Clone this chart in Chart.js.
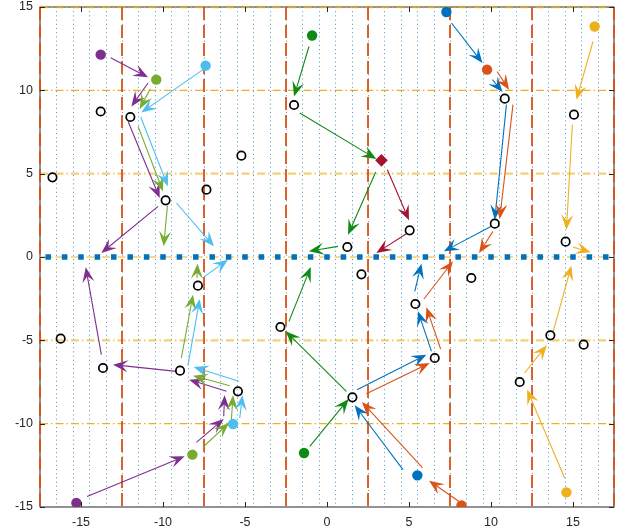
<!DOCTYPE html>
<html>
<head>
<meta charset="utf-8">
<script src="https://cdn.jsdelivr.net/npm/chart.js@4/dist/chart.umd.min.js"></script>
<style>
  html, body { margin: 0; padding: 0; background: #ffffff; }
  #wrap { width: 626px; height: 531px; }
</style>
</head>
<body>
<div id="wrap"><canvas id="c" width="626" height="531"></canvas></div>
<script>
// ---- axes ----
const xTicks = [-15, -10, -5, 0, 5, 10, 15];
const yTicks = [-15, -10, -5, 0, 5, 10, 15];

// ---- reference lines ----
const cellEdgesX = [-17.5, -12.5, -7.5, -2.5, 2.5, 7.5, 12.5, 17.5];
const halfStepsX = [-16.5, -15.5, -14.5, -13.5, -12.5, -11.5, -10.5, -9.5, -8.5, -7.5, -6.5, -5.5,
                    -4.5, -3.5, -2.5, -1.5, -0.5, 0.5, 1.5, 2.5, 3.5, 4.5, 5.5, 6.5, 7.5, 8.5,
                    9.5, 10.5, 11.5, 12.5, 13.5, 14.5, 15.5, 16.5];
const bandLinesStrong = [-5, 5, 15];
const bandLinesLight = [-10, 0, 10];
const targetSlotsX = [-17, -16, -15, -14, -13, -12, -11, -10, -9, -8, -7, -6, -5, -4, -3, -2, -1,
                      0, 1, 2, 3, 4, 5, 6, 7, 8, 9, 10, 11, 12, 13, 14, 15, 16, 17];

// ---- waypoints (open circles) ----
const wayX = [-16.74, -13.80, -11.99, -9.84, -7.35, -5.22, -2.01, 1.24, 2.10, 5.04, 10.84, 10.23, 14.55, 15.06,
              -16.24, -13.66, -8.96, -7.87, -5.43, -2.84, 1.55, 5.39, 6.57, 8.80, 11.75, 13.62, 15.65];
const wayY = [4.78, 8.73, 8.40, 3.40, 4.04, 6.08, 9.12, 0.60, -1.04, 1.60, 9.50, 2.00, 0.92, 8.54,
              -4.90, -6.66, -6.82, -1.72, -8.06, -4.20, -8.42, -2.82, -6.06, -1.26, -7.50, -4.70, -5.26];

// ---- starting positions ----
const startColor = ['purple', 'olive', 'cyan', 'green', 'blue', 'orange', 'yellow',
                    'purple', 'olive', 'cyan', 'green', 'blue', 'orange', 'yellow'];
const startX = [-13.80, -10.41, -7.40, -0.91, 7.28, 9.76, 16.32,
                -15.28, -8.21, -5.73, -1.40, 5.51, 8.20, 14.60];
const startY = [12.14, 10.64, 11.48, 13.29, 14.70, 11.24, 13.83,
                -14.76, -11.86, -10.02, -11.76, -13.10, -14.90, -14.12];
const hubX = [3.32];
const hubY = [5.80];

// ---- moves: [tailX, tailY, tipX, tipY] ----
const movesPurpleTop = [[-13.19, 11.96, -10.91, 10.78], [-10.91, 10.44, -11.93, 9.03],
                        [-12.13, 8.13, -10.20, 3.54], [-10.30, 3.04, -13.76, 0.24]];
const movesOliveTop = [[-10.78, 10.08, -11.42, 8.88], [-11.52, 7.84, -10.00, 3.94], [-9.73, 3.08, -9.96, 0.64]];
const movesCyanTop = [[-7.56, 11.24, -11.32, 8.67], [-11.36, 8.40, -9.70, 4.24], [-9.18, 3.24, -6.89, 0.64]];
const movesGreenTop = [[-1.10, 12.63, -2.01, 9.63], [-1.66, 8.64, 3.01, 5.88],
                       [2.97, 5.10, 1.28, 1.34], [0.67, 0.64, -1.10, 0.34]];
const movesRedTop = [[3.68, 5.24, 5.00, 2.20], [4.84, 1.40, 3.01, 0.24]];
const movesBlueTop = [[7.59, 14.04, 9.48, 11.64], [10.09, 10.64, 10.70, 9.90],
                      [10.94, 9.14, 10.23, 2.24], [10.02, 1.84, 7.13, 0.34]];
const movesOrangeTop = [[10.37, 11.13, 11.10, 10.04], [11.34, 9.14, 10.53, 2.28], [10.12, 1.54, 9.27, 0.24]];
const movesYellowTop = [[16.22, 12.93, 15.21, 9.44], [14.96, 7.94, 14.60, 1.64], [15.00, 0.60, 16.08, 0.28]];

const movesPurpleBottom = [[-14.63, -14.37, -8.68, -11.96], [-7.96, -11.12, -6.30, -9.72],
                           [-6.30, -9.56, -6.24, -8.30], [-6.13, -8.06, -8.41, -7.36],
                           [-9.18, -6.86, -13.05, -6.46], [-13.76, -5.86, -14.71, -0.62]];
const movesOliveBottom = [[-7.56, -11.40, -5.98, -9.96], [-5.83, -9.76, -5.73, -8.30],
                          [-5.93, -7.72, -8.17, -7.12], [-8.88, -6.06, -8.17, -2.26], [-7.93, -1.26, -7.90, -0.40]];
const movesCyanBottom = [[-5.32, -9.66, -5.16, -8.30], [-5.37, -7.46, -8.13, -6.60],
                         [-8.48, -6.52, -7.76, -2.52], [-7.46, -1.16, -6.04, -0.16]];
const movesGreenBottom = [[-1.05, -11.36, 1.32, -8.52], [1.18, -8.06, -2.52, -4.46], [-2.32, -3.86, -0.99, -0.60]];
const movesBlueBottom = [[4.63, -12.76, 1.69, -8.90], [1.83, -7.96, 6.06, -5.86],
                         [6.37, -5.66, 5.55, -3.26], [5.35, -2.06, 5.76, -0.40]];
const movesOrangeBottom = [[8.09, -14.70, 6.22, -13.42], [5.82, -12.64, 2.13, -8.70],
                           [2.40, -8.20, 6.26, -6.36], [6.93, -5.52, 6.06, -3.02], [5.91, -2.52, 7.68, -0.26]];
const movesYellowBottom = [[14.49, -13.26, 12.20, -7.96], [12.05, -6.96, 13.40, -5.29], [13.78, -4.52, 14.90, -0.52]];

const palette = {
  blue: '#0072BD', orange: '#D95319', yellow: '#EDB120', purple: '#7E2F8E',
  olive: '#77AC30', cyan: '#4DBEEE', red: '#A2142F', green: '#0E8A16'
};

const moveSets = [
  [movesPurpleTop, 'purple'], [movesOliveTop, 'olive'], [movesCyanTop, 'cyan'],
  [movesGreenTop, 'green'], [movesRedTop, 'red'], [movesBlueTop, 'blue'],
  [movesOrangeTop, 'orange'], [movesYellowTop, 'yellow'],
  [movesPurpleBottom, 'purple'], [movesOliveBottom, 'olive'], [movesCyanBottom, 'cyan'],
  [movesGreenBottom, 'green'], [movesBlueBottom, 'blue'], [movesOrangeBottom, 'orange'],
  [movesYellowBottom, 'yellow']
];

const axisColor = '#262626';

function drawArrow(ctx, x0, y0, x1, y1, color) {
  const dx = x1 - x0, dy = y1 - y0, len = Math.hypot(dx, dy);
  if (len < 0.5) return;
  const ux = dx / len, uy = dy / len, nx = -uy, ny = ux;
  const L = 15, H = 6, B = 0.6 * L;
  ctx.strokeStyle = color;
  ctx.fillStyle = color;
  ctx.lineWidth = 1.1;
  ctx.setLineDash([]);
  ctx.beginPath();
  ctx.moveTo(x0, y0);
  ctx.lineTo(x1 - ux * B, y1 - uy * B);
  ctx.stroke();
  ctx.beginPath();
  ctx.moveTo(x1, y1);
  ctx.lineTo(x1 - ux * L + nx * H, y1 - uy * L + ny * H);
  ctx.lineTo(x1 - ux * B, y1 - uy * B);
  ctx.lineTo(x1 - ux * L - nx * H, y1 - uy * L - ny * H);
  ctx.closePath();
  ctx.fill();
}

const overlay = {
  id: 'overlay',
  beforeDatasetsDraw(chart) {
    const { ctx, chartArea: a, scales } = chart;
    const sx = scales.x, sy = scales.y;
    const seg = (x0, y0, x1, y1) => { ctx.beginPath(); ctx.moveTo(x0, y0); ctx.lineTo(x1, y1); ctx.stroke(); };
    ctx.save();

    // axes box
    ctx.strokeStyle = axisColor;
    ctx.lineWidth = 1;
    ctx.setLineDash([]);
    ctx.strokeRect(a.left, a.top, a.right - a.left, a.bottom - a.top);

    // dotted half-step verticals
    ctx.strokeStyle = 'rgba(0,114,189,0.72)';
    ctx.lineWidth = 1;
    ctx.setLineDash([1, 3.2]);
    halfStepsX.forEach(v => {
      const px = Math.round(sx.getPixelForValue(v)) + 0.5;
      seg(px, a.top, px, a.bottom);
    });

    // dash-dot horizontal bands
    ctx.setLineDash([8, 3, 1.5, 3]);
    ctx.strokeStyle = 'rgba(237,177,32,0.6)';
    ctx.lineWidth = 2.4;
    bandLinesStrong.forEach(v => {
      const py = sy.getPixelForValue(v);
      seg(a.left, py, a.right, py);
    });
    ctx.strokeStyle = '#EDB120';
    ctx.lineWidth = 1.2;
    bandLinesLight.forEach(v => {
      const py = sy.getPixelForValue(v);
      seg(a.left, py, a.right, py);
    });

    // dashed cell edges
    ctx.strokeStyle = palette.orange;
    ctx.lineWidth = 1.8;
    ctx.setLineDash([13, 5]);
    cellEdgesX.forEach(v => {
      const px = sx.getPixelForValue(v);
      seg(px, a.top, px, a.bottom);
    });

    // target slots along y = 0
    const ppu = Math.abs(sx.getPixelForValue(1) - sx.getPixelForValue(0));
    const sq = 5.5;
    const y0 = sy.getPixelForValue(0);
    ctx.strokeStyle = palette.blue;
    ctx.lineWidth = sq;
    ctx.lineCap = 'butt';
    ctx.setLineDash([sq, ppu - sq]);
    const first = sx.getPixelForValue(targetSlotsX[0]) - sq / 2;
    const last = sx.getPixelForValue(targetSlotsX[targetSlotsX.length - 1]) + sq / 2;
    seg(first, y0, last, y0);

    // moves
    moveSets.forEach(([moves, col]) => {
      moves.forEach(m => {
        drawArrow(ctx,
          sx.getPixelForValue(m[0]), sy.getPixelForValue(m[1]),
          sx.getPixelForValue(m[2]), sy.getPixelForValue(m[3]),
          palette[col]);
      });
    });
    ctx.restore();
  },
  afterDatasetsDraw(chart) {
    const { ctx, chartArea: a, scales } = chart;
    const sx = scales.x, sy = scales.y;
    const t = 5;
    ctx.save();
    ctx.strokeStyle = axisColor;
    ctx.lineWidth = 1;
    ctx.setLineDash([]);
    ctx.beginPath();
    xTicks.forEach(v => {
      const px = Math.round(sx.getPixelForValue(v)) + 0.5;
      ctx.moveTo(px, a.bottom); ctx.lineTo(px, a.bottom - t);
      ctx.moveTo(px, a.top); ctx.lineTo(px, a.top + t);
    });
    yTicks.forEach(v => {
      const py = Math.round(sy.getPixelForValue(v)) + 0.5;
      ctx.moveTo(a.left, py); ctx.lineTo(a.left + t, py);
      ctx.moveTo(a.right, py); ctx.lineTo(a.right - t, py);
    });
    ctx.stroke();
    ctx.restore();
  }
};

const tickFont = { family: "'Liberation Sans', Arial, Helvetica, sans-serif", size: 12.5 };

new Chart(document.getElementById('c'), {
  type: 'scatter',
  data: {
    datasets: [
      {
        data: wayX.map((x, i) => ({ x, y: wayY[i] })),
        pointStyle: 'circle',
        pointRadius: 4.2,
        borderColor: '#000000',
        borderWidth: 1.7,
        backgroundColor: 'rgba(0,0,0,0)'
      },
      {
        data: startX.map((x, i) => ({ x, y: startY[i] })),
        pointStyle: 'circle',
        pointRadius: 5.2,
        borderWidth: 0,
        pointBackgroundColor: startColor.map(n => palette[n]),
        pointBorderColor: startColor.map(n => palette[n])
      },
      {
        data: hubX.map((x, i) => ({ x, y: hubY[i] })),
        pointStyle: 'rectRot',
        pointRadius: 6.3,
        borderWidth: 0,
        backgroundColor: palette.red,
        borderColor: palette.red
      }
    ]
  },
  options: {
    responsive: false,
    animation: false,
    devicePixelRatio: 1,
    layout: { padding: { top: 7, right: 12, left: 0, bottom: 0 } },
    plugins: { legend: { display: false }, tooltip: { enabled: false } },
    scales: {
      x: {
        type: 'linear',
        min: -17.5,
        max: 17.5,
        afterBuildTicks: s => { s.ticks = xTicks.map(v => ({ value: v })); },
        afterFit: s => { s.height = 24; s.paddingLeft = 0; s.paddingRight = 0; },
        grid: { display: false, drawTicks: false },
        border: { display: false },
        ticks: { font: tickFont, color: axisColor, padding: 8, maxRotation: 0 }
      },
      y: {
        type: 'linear',
        min: -15,
        max: 15,
        afterBuildTicks: s => { s.ticks = yTicks.map(v => ({ value: v })); },
        afterFit: s => { s.width = 40; s.paddingTop = 0; s.paddingBottom = 0; },
        grid: { display: false, drawTicks: false },
        border: { display: false },
        ticks: { font: tickFont, color: axisColor, padding: 7 }
      }
    }
  },
  plugins: [overlay]
});
</script>
</body>
</html>
